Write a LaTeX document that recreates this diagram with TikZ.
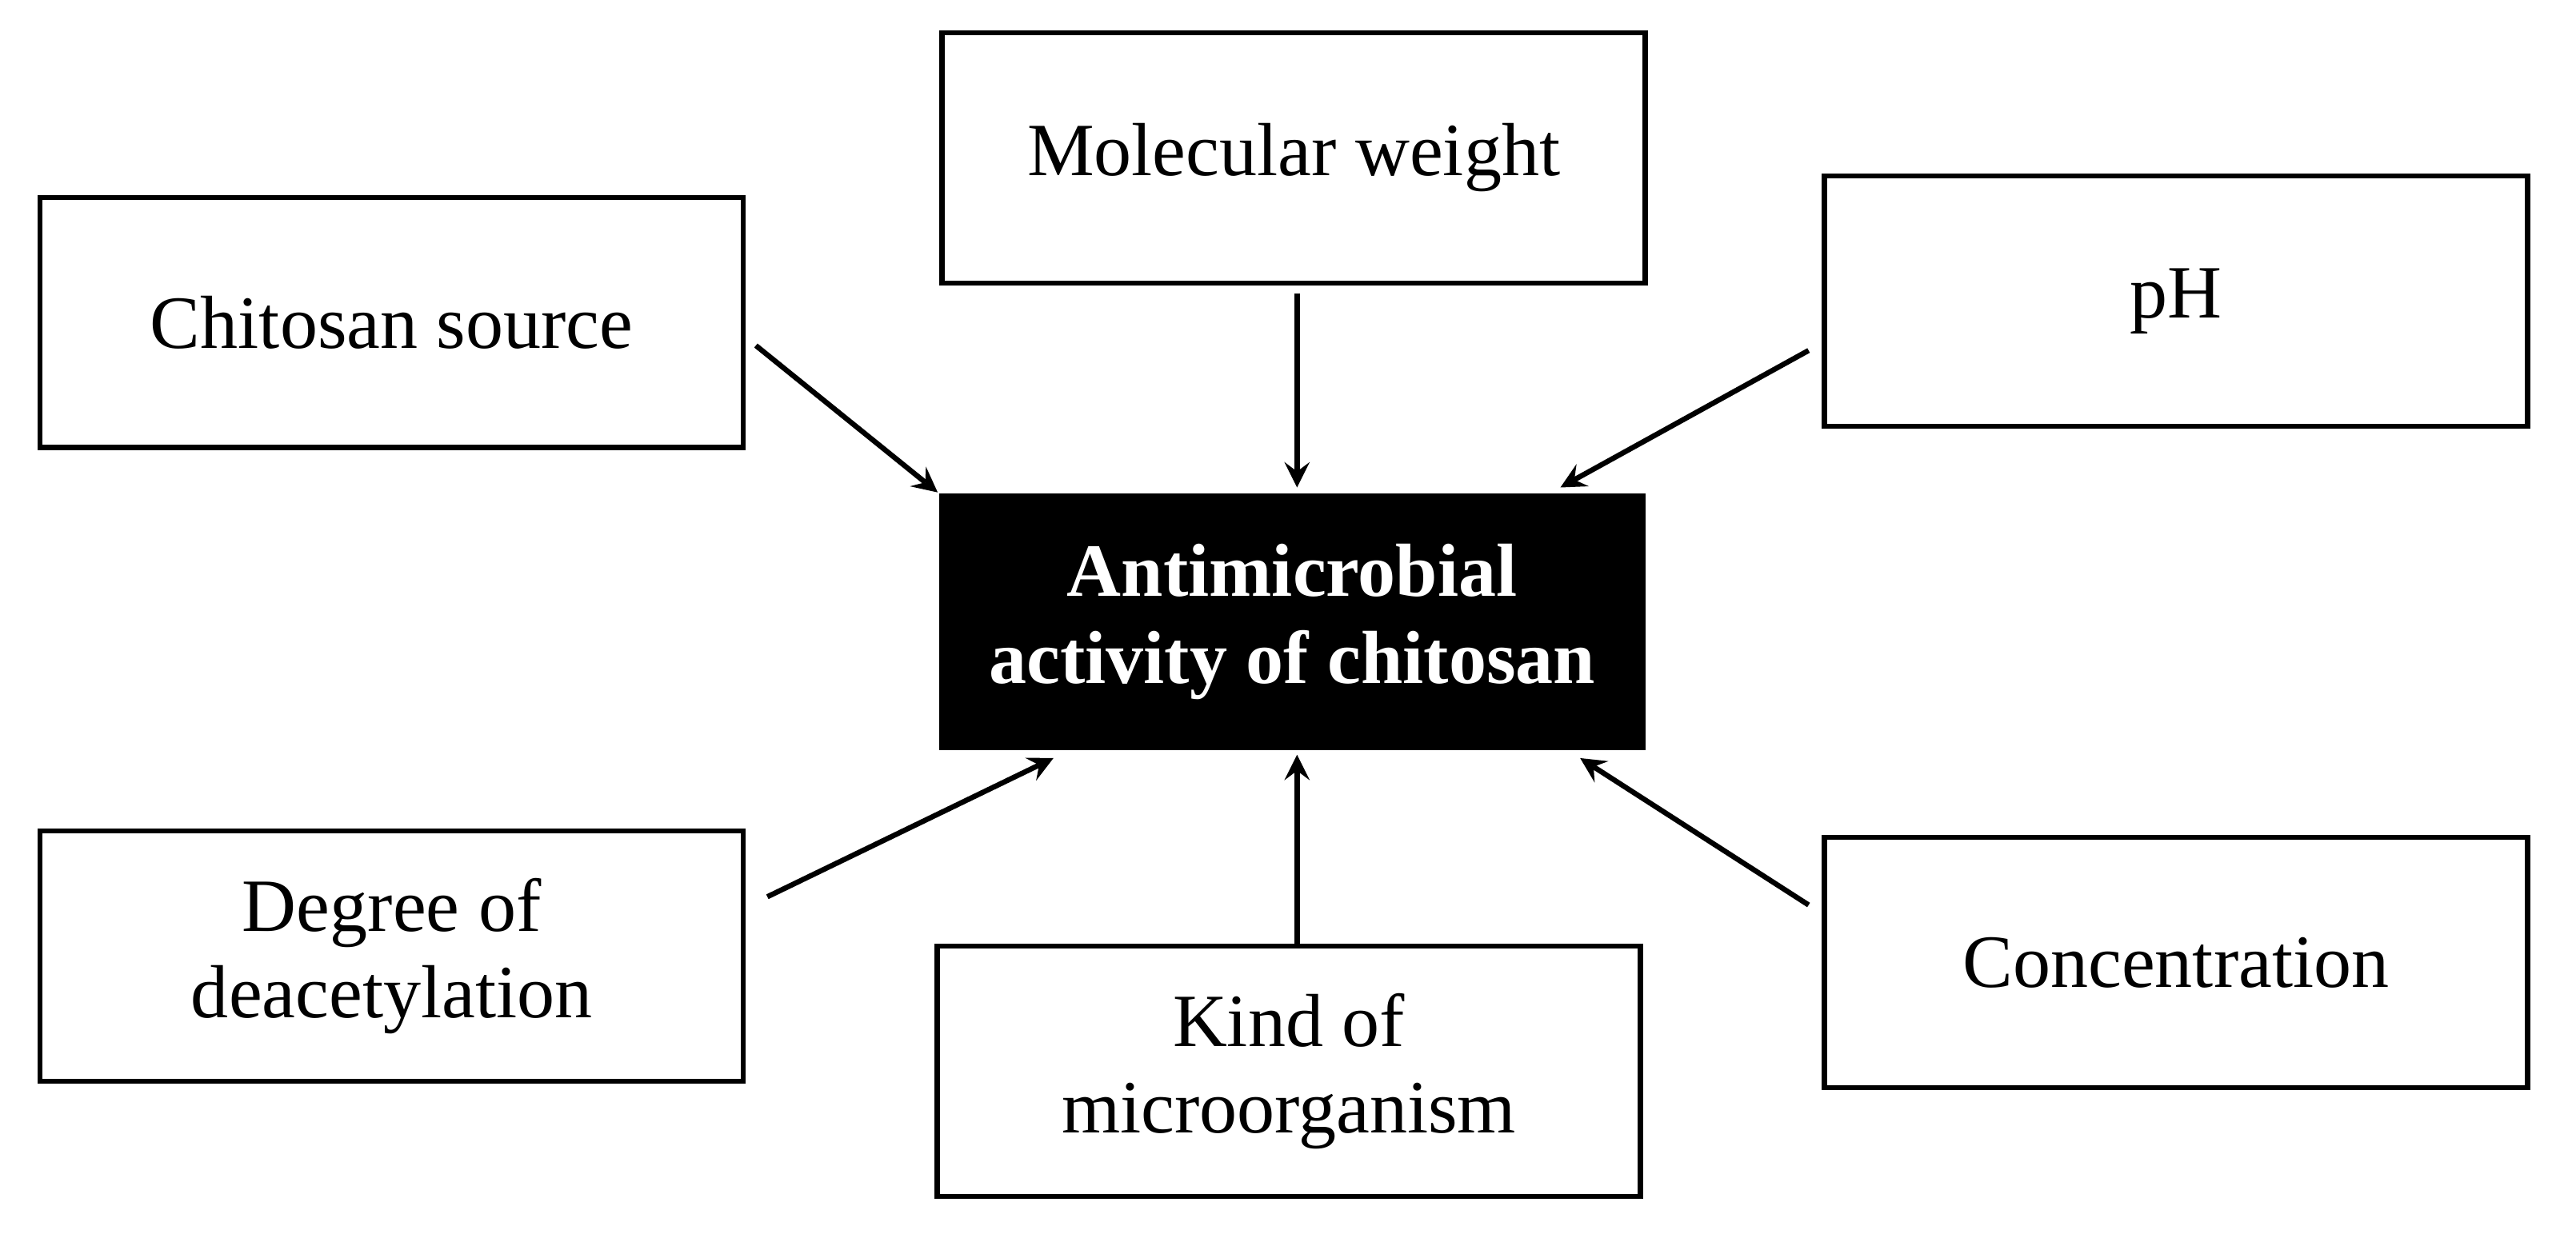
\documentclass[tikz,border=0pt]{standalone}
\usepackage{fontspec}
\setmainfont{Liberation Serif}
\usetikzlibrary{arrows}

\begin{document}
\begin{tikzpicture}[x=0.01cm,y=0.01cm]
        \tikzstyle{factor} = [rectangle, draw=black, line width=0.9pt, minimum width=4.27cm, minimum height=1.52cm, text centered, align=center, font=\fontsize{13}{15}\selectfont]
        \tikzstyle{core} = [rectangle, fill=black, text=white, minimum width=4.29cm, minimum height=1.56cm, align=center, font=\fontsize{13}{15}\selectfont\bfseries]
        \tikzstyle{arrow} = [line width=0.9pt,->,>=stealth]

        \useasboundingbox (0,0) rectangle (1565,752);

        % Nodes
        \node (activity) [core] at (785,374) {Antimicrobial\\activity of chitosan};
        \node (weight) [factor] at (786,656) {Molecular weight};
        \node (source) [factor] at (238,556) {Chitosan source};
        \node (ph) [factor] at (1322,569) {pH};
        \node (degree) [factor] at (238,171) {Degree of\\deacetylation};
        \node (kind) [factor] at (783,101) {Kind of\\microorganism};
        \node (conc) [factor] at (1322,167) {Concentration};

        % Arrows
        \draw [arrow] ([shift={(6,-14)}]source.east) -- (activity.north west);
        \draw [arrow] ([shift={(2,-5)}]weight.south) -- ([shift={(3,3)}]activity.north);
        \draw [arrow] ([shift={(-8,-30)}]ph.west) -- ([shift={(163,3)}]activity.north);
        \draw [arrow] ([shift={(13,36)}]degree.east) -- ([shift={(-145,-4)}]activity.south);
        \draw [arrow] ([shift={(5,0)}]kind.north) -- ([shift={(3,-2)}]activity.south);
        \draw [arrow] ([shift={(-8,35)}]conc.west) -- ([shift={(175,-4)}]activity.south);

\end{tikzpicture}
\end{document}
